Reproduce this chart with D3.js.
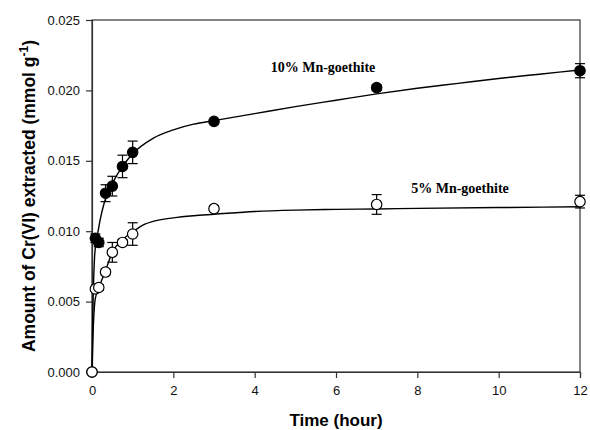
<!DOCTYPE html>
<html>
<head>
<meta charset="utf-8">
<script src="https://cdn.jsdelivr.net/npm/d3@7"></script>
<style>
body { margin: 0; background: #fff; }
</style>
</head>
<body>
<script>
// measured points (mmol g-1 x 1000)
var times = [0, 0.083, 0.167, 0.333, 0.5, 0.75, 1, 3, 7, 12];
var mn10 = [0, 9.5, 9.2, 12.7, 13.2, 14.6, 15.6, 17.8, 20.2, 21.4];
var mn10err = [0, 0.3, 0.3, 0.6, 0.7, 0.8, 0.8, 0.1, 0.2, 0.5];
var mn5 = [0, 5.9, 6.0, 7.1, 8.5, 9.2, 9.8, 11.6, 11.9, 12.1];
var mn5err = [0, 0.15, 0.2, 0.2, 0.7, 0.2, 0.8, 0.2, 0.7, 0.45];

// fitted curves
var fitT10 = [0, 0.01, 0.03, 0.06, 0.1, 0.15, 0.2, 0.3, 0.4, 0.5, 0.75, 1, 1.5, 2, 2.5, 3, 4, 5, 6, 7, 8, 9, 10, 11, 12];
var fit10 = [0, 2.5, 5.5, 8.0, 9.2, 10.0, 10.8, 12.0, 12.8, 13.4, 14.6, 15.5, 16.6, 17.2, 17.6, 17.85, 18.35, 18.85, 19.3, 19.75, 20.15, 20.5, 20.85, 21.15, 21.45];
var fitT5 = [0, 0.03, 0.08, 0.16, 0.25, 0.32, 0.5, 0.75, 1, 1.3, 1.5, 2, 2.5, 3, 4, 5, 6, 7, 8, 10, 12];
var fit5 = [0, 3.0, 5.2, 5.9, 6.6, 7.1, 8.5, 9.4, 9.95, 10.5, 10.7, 10.95, 11.1, 11.2, 11.4, 11.5, 11.55, 11.58, 11.62, 11.68, 11.74];

var xTicks = [0, 2, 4, 6, 8, 10, 12];
var yTicks = [0, 0.005, 0.010, 0.015, 0.020, 0.025];

function drawChart() {
	var width = 590, height = 430;
	var mLeft = 92, mRight = 580, mTop = 20, mBottom = 372;

	var svg = d3.select("body").append("svg")
		.attr("width", width)
		.attr("height", height);

	var x = d3.scaleLinear().domain([0, 12]).range([mLeft, mRight]);
	var y = d3.scaleLinear().domain([0, 0.025]).range([mBottom, mTop]);

	// frame
	svg.append("rect")
		.attr("x", mLeft).attr("y", mTop)
		.attr("width", mRight - mLeft).attr("height", mBottom - mTop)
		.attr("fill", "none").attr("stroke", "#333").attr("stroke-width", 1.2);

	var xAxis = svg.append("g")
		.attr("transform", "translate(0," + mBottom + ")")
		.call(d3.axisBottom(x).tickValues(xTicks).tickSize(6).tickPadding(8).tickFormat(d3.format("d")));
	var yAxis = svg.append("g")
		.attr("transform", "translate(" + mLeft + ",0)")
		.call(d3.axisLeft(y).tickValues(yTicks).tickSize(6).tickPadding(6).tickFormat(d3.format(".3f")));

	[xAxis, yAxis].forEach(function(a) {
		a.select(".domain").attr("stroke", "#333").attr("stroke-width", 1.2);
		a.selectAll(".tick line").attr("stroke", "#333").attr("stroke-width", 1.2);
		a.selectAll(".tick text")
			.attr("fill", "#111")
			.style("font-family", "'Liberation Sans', Arial, sans-serif")
			.style("font-size", "13px");
	});

	// fitted lines
	var line = d3.line()
		.x(function(d) { return x(d[0]); })
		.y(function(d) { return y(d[1] / 1000); })
		.curve(d3.curveMonotoneX);

	svg.append("path")
		.attr("d", line(fitT10.map(function(t, i) { return [t, fit10[i]]; })))
		.attr("fill", "none").attr("stroke", "#000").attr("stroke-width", 1.4);
	svg.append("path")
		.attr("d", line(fitT5.map(function(t, i) { return [t, fit5[i]]; })))
		.attr("fill", "none").attr("stroke", "#000").attr("stroke-width", 1.4);

	function drawSeries(vals, errs, filled) {
		var pts = times.map(function(t, i) { return { t: t, v: vals[i] / 1000, e: errs[i] / 1000 }; });
		var g = svg.append("g");
		var bars = g.selectAll("g.bar").data(pts.filter(function(d) { return d.e > 0; }))
			.enter().append("g")
			.attr("stroke", "#000").attr("stroke-width", 1.2);
		bars.append("line")
			.attr("x1", function(d) { return x(d.t); }).attr("x2", function(d) { return x(d.t); })
			.attr("y1", function(d) { return y(d.v + d.e); }).attr("y2", function(d) { return y(d.v - d.e); });
		bars.append("line")
			.attr("x1", function(d) { return x(d.t) - 5; }).attr("x2", function(d) { return x(d.t) + 5; })
			.attr("y1", function(d) { return y(d.v + d.e); }).attr("y2", function(d) { return y(d.v + d.e); });
		bars.append("line")
			.attr("x1", function(d) { return x(d.t) - 5; }).attr("x2", function(d) { return x(d.t) + 5; })
			.attr("y1", function(d) { return y(d.v - d.e); }).attr("y2", function(d) { return y(d.v - d.e); });
		g.selectAll("circle").data(pts).enter().append("circle")
			.attr("cx", function(d) { return x(d.t); })
			.attr("cy", function(d) { return y(d.v); })
			.attr("r", 5.2)
			.attr("fill", filled ? "#000" : "#fff")
			.attr("stroke", "#000").attr("stroke-width", 1.2);
	}
	drawSeries(mn10, mn10err, true);
	drawSeries(mn5, mn5err, false);

	// series labels
	svg.append("text").attr("x", 323).attr("y", 72)
		.attr("text-anchor", "middle")
		.style("font-family", "'Liberation Serif', 'Times New Roman', serif")
		.style("font-weight", "bold").style("font-size", "14px")
		.text("10% Mn-goethite");
	svg.append("text").attr("x", 460).attr("y", 193)
		.attr("text-anchor", "middle")
		.style("font-family", "'Liberation Serif', 'Times New Roman', serif")
		.style("font-weight", "bold").style("font-size", "14px")
		.text("5% Mn-goethite");

	// axis titles
	svg.append("text").attr("x", 336).attr("y", 426)
		.attr("text-anchor", "middle")
		.style("font-family", "'Liberation Sans', Arial, sans-serif")
		.style("font-weight", "bold").style("font-size", "17px")
		.text("Time (hour)");

	var yt = svg.append("text")
		.attr("transform", "translate(35," + ((mTop + mBottom) / 2) + ") rotate(-90)")
		.attr("text-anchor", "middle")
		.style("font-family", "'Liberation Sans', Arial, sans-serif")
		.style("font-weight", "bold").style("font-size", "17.5px");
	yt.append("tspan").text("Amount of Cr(VI) extracted (mmol g");
	yt.append("tspan").attr("dy", -7).style("font-size", "12px").text("-1");
	yt.append("tspan").attr("dy", 7).text(")");
}

drawChart();
</script>
</body>
</html>
